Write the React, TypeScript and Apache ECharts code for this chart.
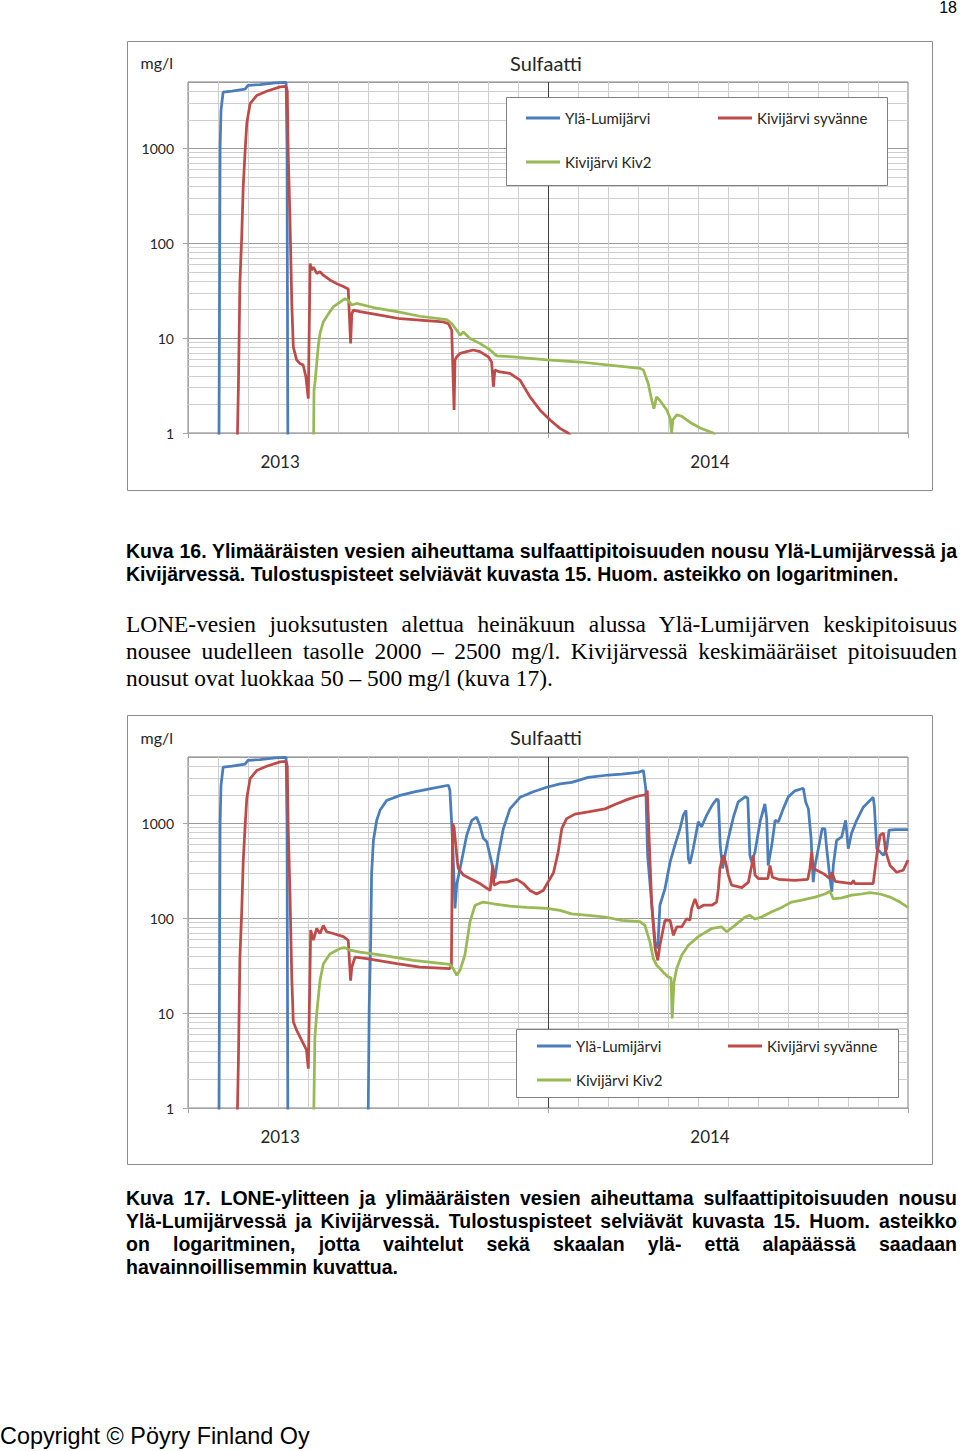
import React, { useEffect, useRef } from "react";
import * as echarts from "echarts";

// ---------- data ----------
const seriesNames = ["Ylä-Lumijärvi", "Kivijärvi syvänne", "Kivijärvi Kiv2"];
const seriesColors = ["#4a7ebb", "#be4b48", "#98b954"];
const yearLabels = ["2013", "2014"];
const yearLabelMonths = [3.07, 17.4]; // months since 1.1.2013
const yearTickMonths = [0, 12, 24];
const monthGridValues = [1, 2, 3, 4, 5, 6, 7, 8, 9, 10, 11, 13, 14, 15, 16, 17, 18, 19, 20, 21, 22, 23];
const minorGridValues = [2, 3, 4, 5, 6, 7, 8, 9, 20, 30, 40, 50, 60, 70, 80, 90, 200, 300, 400, 500, 600, 700, 800, 900, 2000, 3000, 4000];

// x = months since 1.1.2013, y = mg/l
const fig16YlaLumijarvi = [[1.03, 0.5], [1.07, 1000], [1.1, 2500], [1.17, 3900], [1.47, 4000], [1.9, 4200], [2.0, 4600], [2.4, 4700], [2.9, 4900], [3.27, 4950], [3.3, 1000], [3.33, 0.5]];
const fig16KivijarviSyvanne = [[1.63, 0.5], [1.68, 3.07], [1.73, 38], [1.79, 116], [1.84, 392], [1.9, 890], [1.96, 1840], [2.07, 2960], [2.29, 3600], [2.62, 3990], [3.07, 4440], [3.27, 4500], [3.31, 4000], [3.34, 890], [3.4, 175], [3.46, 23], [3.51, 8.1], [3.62, 5.9], [3.73, 5.4], [3.84, 5.2], [3.93, 3.9], [4.01, 2.3], [4.07, 61], [4.12, 52], [4.18, 56], [4.29, 48], [4.4, 50], [4.51, 46], [4.73, 41], [4.96, 37.5], [5.18, 35], [5.34, 33], [5.42, 8.8], [5.46, 18], [5.51, 19.7], [5.73, 19], [6.4, 17.5], [7.07, 16], [7.73, 15.5], [8.51, 14.8], [8.68, 14.2], [8.79, 12.1], [8.87, 1.75], [8.9, 5.9], [8.96, 6.35], [9.07, 6.9], [9.29, 7.2], [9.51, 7.5], [9.73, 7.2], [10.01, 6.35], [10.12, 5.6], [10.18, 3.07], [10.23, 4.6], [10.4, 4.4], [10.73, 4.25], [11.07, 3.6], [11.4, 2.4], [11.73, 1.75], [12.07, 1.37], [12.4, 1.12], [12.67, 1.0], [12.8, 0.9]];
const fig16KivijarviKiv2 = [[4.18, 0.5], [4.2, 2.83], [4.23, 3.33], [4.29, 5.4], [4.34, 8.1], [4.4, 11.2], [4.51, 14.8], [4.68, 18], [4.84, 21.3], [5.07, 24], [5.23, 26], [5.34, 25], [5.46, 22.3], [5.62, 23.2], [6.18, 21], [6.96, 19], [7.73, 17], [8.62, 15.7], [8.79, 14.2], [8.96, 12.1], [9.07, 10.7], [9.18, 11.6], [9.4, 9.9], [9.73, 8.8], [10.07, 7.5], [10.29, 6.5], [10.84, 6.35], [11.96, 5.9], [13.07, 5.6], [15.07, 4.8], [15.18, 4.6], [15.34, 3.33], [15.46, 2.2], [15.53, 1.8], [15.62, 2.4], [15.73, 2.2], [15.96, 1.75], [16.07, 1.43], [16.12, 1.0], [16.16, 1.37], [16.29, 1.55], [16.46, 1.5], [16.73, 1.3], [17.07, 1.13], [17.51, 1.0], [17.6, 0.9]];

const fig17YlaLumijarvi = [[1.03, 0.5], [1.07, 1000], [1.1, 2500], [1.17, 3900], [1.47, 4000], [1.9, 4200], [2.0, 4600], [2.4, 4700], [2.9, 4900], [3.27, 4950], [3.3, 1000], [3.33, 0.5], [6.0, 0.5], [6.04, 11.6], [6.09, 58.6], [6.12, 295], [6.18, 660], [6.29, 1075], [6.4, 1370], [6.62, 1740], [7.07, 1970], [7.51, 2130], [8.18, 2350], [8.68, 2520], [8.73, 2220], [8.79, 1000], [8.84, 440], [8.9, 127], [8.96, 230], [9.07, 335], [9.29, 750], [9.46, 1075], [9.62, 1160], [9.73, 950], [9.84, 700], [9.96, 640], [10.12, 390], [10.23, 262], [10.34, 460], [10.51, 875], [10.73, 1420], [11.07, 1880], [11.51, 2150], [11.96, 2400], [12.4, 2600], [12.79, 2700], [13.34, 3050], [14.01, 3230], [14.46, 3300], [15.01, 3440], [15.18, 3600], [15.26, 2300], [15.32, 460], [15.46, 137], [15.57, 56], [15.66, 48], [15.73, 137], [15.9, 205], [16.07, 390], [16.23, 590], [16.4, 880], [16.51, 1220], [16.6, 1370], [16.68, 425], [16.73, 375], [16.84, 540], [17.01, 1040], [17.12, 920], [17.29, 1220], [17.46, 1530], [17.62, 1800], [17.68, 1750], [17.74, 590], [17.82, 335], [17.9, 460], [18.01, 690], [18.18, 1160], [18.34, 1680], [18.57, 1900], [18.66, 1850], [18.73, 460], [18.79, 390], [18.9, 500], [19.07, 1040], [19.23, 1600], [19.29, 1120], [19.34, 360], [19.46, 590], [19.57, 1075], [19.68, 1040], [19.84, 1420], [20.01, 1900], [20.23, 2200], [20.51, 2340], [20.59, 1680], [20.68, 1420], [20.77, 690], [20.84, 240], [20.9, 360], [21.01, 540], [21.14, 880], [21.23, 875], [21.29, 540], [21.4, 262], [21.46, 190], [21.51, 360], [21.62, 660], [21.79, 720], [21.92, 1075], [22.01, 540], [22.12, 790], [22.29, 1075], [22.51, 1480], [22.73, 1740], [22.84, 1880], [22.88, 1500], [22.96, 540], [23.07, 500], [23.18, 460], [23.29, 540], [23.37, 850], [23.57, 860], [24.0, 860]];
const fig17KivijarviSyvanne = [[1.63, 0.5], [1.68, 3.07], [1.73, 38], [1.79, 116], [1.84, 392], [1.9, 890], [1.96, 1840], [2.07, 2960], [2.29, 3600], [2.62, 3990], [3.07, 4440], [3.27, 4500], [3.31, 4000], [3.34, 890], [3.4, 175], [3.46, 23], [3.51, 8.1], [3.62, 6.6], [3.84, 4.8], [3.95, 4.1], [4.01, 2.6], [4.09, 75], [4.18, 58.6], [4.29, 78], [4.4, 69], [4.51, 84], [4.62, 72], [4.84, 69], [5.18, 64], [5.34, 58.6], [5.42, 22], [5.46, 30.6], [5.57, 39], [5.96, 37.6], [6.96, 33.3], [7.73, 30.6], [8.73, 29.5], [8.78, 32], [8.82, 1000], [8.87, 900], [8.98, 390], [9.01, 335], [9.18, 285], [9.4, 262], [9.73, 232], [10.07, 196], [10.16, 360], [10.2, 223], [10.4, 240], [10.62, 240], [10.96, 257], [11.18, 232], [11.4, 196], [11.62, 180], [11.84, 196], [12.07, 262], [12.18, 300], [12.29, 425], [12.34, 500], [12.46, 880], [12.62, 1120], [12.9, 1250], [13.34, 1320], [13.9, 1420], [14.23, 1580], [14.68, 1800], [15.01, 1940], [15.26, 2000], [15.31, 2220], [15.37, 690], [15.46, 137], [15.57, 48], [15.66, 36], [15.73, 52], [15.9, 95], [16.07, 95], [16.18, 66], [16.29, 81], [16.46, 81], [16.62, 99], [16.73, 95], [16.79, 127], [16.9, 160], [17.01, 127], [17.18, 137], [17.46, 137], [17.62, 148], [17.68, 205], [17.73, 335], [17.84, 460], [17.92, 390], [18.01, 285], [18.12, 223], [18.46, 210], [18.68, 240], [18.79, 360], [18.84, 460], [18.9, 285], [19.01, 262], [19.33, 262], [19.4, 360], [19.48, 270], [19.68, 257], [20.23, 250], [20.66, 257], [20.73, 335], [20.79, 500], [20.84, 335], [20.96, 320], [21.18, 295], [21.4, 262], [21.46, 305], [21.57, 245], [22.12, 232], [22.18, 250], [22.23, 232], [22.84, 232], [22.96, 460], [23.07, 750], [23.18, 790], [23.26, 500], [23.4, 360], [23.62, 305], [23.84, 320], [24.0, 410]];
const fig17KivijarviKiv2 = [[4.18, 0.5], [4.23, 5.6], [4.29, 9.9], [4.4, 22], [4.51, 33], [4.73, 42], [5.07, 48], [5.23, 49], [5.4, 46], [5.73, 44], [6.4, 41], [7.51, 36], [8.73, 32.6], [8.84, 29.5], [8.96, 25], [9.07, 28.4], [9.23, 41], [9.4, 92], [9.57, 137], [9.84, 148], [10.18, 142], [10.73, 134], [11.29, 130], [11.96, 127], [12.4, 121], [12.79, 111], [13.34, 107], [13.9, 103], [14.46, 95], [15.07, 92], [15.23, 84], [15.4, 56], [15.51, 37.6], [15.62, 32], [15.73, 29.5], [15.84, 27], [16.01, 24], [16.1, 23.5], [16.14, 8.8], [16.2, 21.3], [16.29, 29.5], [16.46, 41], [16.68, 52], [17.01, 64], [17.46, 78], [17.79, 81], [17.96, 72], [18.23, 84], [18.57, 103], [18.73, 107], [18.9, 98], [19.12, 103], [19.46, 117], [19.79, 130], [20.12, 148], [20.46, 155], [20.9, 167], [21.23, 180], [21.4, 192], [21.51, 160], [21.79, 164], [22.12, 175], [22.46, 180], [22.73, 186], [23.07, 180], [23.4, 167], [23.73, 148], [24.0, 130]];

// ---------- chart ----------
const FONT = "Lato, 'Open Sans', sans-serif";
const TXT = "#262626";
const MINOR = "#cfcfcf";

type Layout = {
  gridTop: number;
  box: number[];
  legendLeftA: number;
  legendLeftB: number;
  legendTop: number;
  legendGap: number;
};

function buildOption(data: number[][][], L: Layout) {
  const legendCommon = {
    orient: "vertical",
    top: L.legendTop,
    itemGap: L.legendGap,
    padding: 0,
    itemWidth: 34,
    itemHeight: 3,
    icon: "rect",
    selectedMode: false,
    z: 4,
    textStyle: { fontSize: 15, color: TXT, fontFamily: FONT, lineHeight: 18 },
  };
  return {
    animation: false,
    textStyle: { fontFamily: FONT },
    title: {
      text: "Sulfaatti",
      left: 419,
      top: 12,
      textAlign: "center",
      padding: 0,
      textStyle: { fontSize: 20, fontWeight: "normal", color: TXT, fontFamily: FONT },
    },
    grid: {
      left: 61,
      top: L.gridTop,
      width: 720,
      height: 351,
      show: true,
      borderColor: "#7f7f7f",
      borderWidth: 1,
      backgroundColor: "transparent",
    },
    xAxis: {
      type: "value",
      min: 0,
      max: 24,
      interval: 1,
      axisLine: { show: true, onZero: false, lineStyle: { color: "#a6a6a6" } },
      axisTick: { show: true, customValues: yearTickMonths, length: 5, lineStyle: { color: "#a6a6a6" } },
      axisLabel: {
        show: true,
        customValues: yearLabelMonths,
        formatter: (v: number) => {
          const i = yearLabelMonths.findIndex((m) => Math.abs(m - v) < 1e-6);
          return i >= 0 ? yearLabels[i] : "";
        },
        margin: 20,
        fontSize: 17,
        color: TXT,
        fontFamily: FONT,
      },
      splitLine: { show: false },
    },
    yAxis: {
      type: "log",
      logBase: 10,
      min: 1,
      max: 5000,
      name: "mg/l",
      nameLocation: "end",
      nameGap: 20,
      nameTextStyle: { fontSize: 16, color: TXT, fontFamily: FONT, align: "right", verticalAlign: "middle", padding: [0, 15, 0, 0] },
      axisLine: { show: true, lineStyle: { color: "#a6a6a6" } },
      axisTick: { show: true, length: 5, lineStyle: { color: "#a6a6a6" } },
      axisLabel: {
        fontSize: 14,
        color: TXT,
        fontFamily: FONT,
        margin: 14,
        showMaxLabel: false,
        formatter: (v: number) => String(Math.round(v)),
      },
      splitLine: { show: true, lineStyle: { color: "#9a9a9a", width: 1 } },
    },
    legend: [
      { ...legendCommon, left: L.legendLeftA, data: [seriesNames[0], seriesNames[2]] },
      { ...legendCommon, left: L.legendLeftB, data: [seriesNames[1]] },
    ],
    graphic: [
      {
        type: "rect",
        silent: true,
        z: 0,
        shape: { x: 0.5, y: 0.5, width: 805, height: 449 },
        style: { fill: "none", stroke: "#8c8c8c", lineWidth: 1 },
      },
      {
        type: "rect",
        silent: true,
        z: 3,
        shape: { x: L.box[0] + 0.5, y: L.box[1] + 0.5, width: L.box[2], height: L.box[3] },
        style: { fill: "#ffffff", stroke: "#7f7f7f", lineWidth: 1 },
      },
    ],
    series: [
      {
        type: "line",
        name: "grid",
        data: [[0, 1]],
        symbol: "none",
        silent: true,
        z: 1,
        lineStyle: { opacity: 0 },
        markLine: {
          silent: true,
          z: 1,
          symbol: ["none", "none"],
          label: { show: false },
          emphasis: { disabled: true },
          lineStyle: { color: MINOR, width: 1, type: "solid" },
          data: [
            ...minorGridValues.map((v) => ({ yAxis: v })),
            ...monthGridValues.map((v) => ({ xAxis: v })),
            { xAxis: 12, lineStyle: { color: "#404040", width: 1, type: "solid" } },
          ],
        },
      },
      ...data.map((d, i) => ({
        type: "line",
        name: seriesNames[i],
        data: d,
        symbol: "none",
        showSymbol: false,
        clip: true,
        z: 2,
        color: seriesColors[i],
        lineStyle: { width: 2.75, color: seriesColors[i] },
        itemStyle: { color: seriesColors[i] },
      })),
    ],
  };
}

const option16 = buildOption([fig16YlaLumijarvi, fig16KivijarviSyvanne, fig16KivijarviKiv2], {
  gridTop: 41,
  box: [379, 56, 381, 88],
  legendLeftA: 399,
  legendLeftB: 591,
  legendTop: 68,
  legendGap: 26,
});
const option17 = buildOption([fig17YlaLumijarvi, fig17KivijarviSyvanne, fig17KivijarviKiv2], {
  gridTop: 42,
  box: [389, 314, 382, 68],
  legendLeftA: 410,
  legendLeftB: 601,
  legendTop: 322,
  legendGap: 16,
});

function Chart({ option, top }: { option: any; top: number }) {
  const ref = useRef<HTMLDivElement>(null);
  useEffect(() => {
    const c = echarts.init(ref.current as HTMLDivElement, null, { renderer: "svg" });
    c.setOption(option);
    return () => c.dispose();
  }, [option]);
  return <div ref={ref} style={{ position: "absolute", left: 127, top, width: 807, height: 451 }} />;
}

// ---------- text ----------
const SANS = "'Liberation Sans', Arial, sans-serif";
const SERIF = "'Liberation Serif', 'Times New Roman', serif";

function Line({ text, top, justify, font, size, bold, lh }: any) {
  return (
    <div
      style={{
        position: "absolute",
        left: 126,
        top,
        width: 831,
        whiteSpace: "nowrap",
        fontFamily: font,
        fontSize: size,
        fontWeight: bold ? "bold" : "normal",
        lineHeight: lh + "px",
        textAlign: justify ? "justify" : "left",
        textAlignLast: justify ? "justify" : "left",
        color: "#000",
      } as any}
    >
      {text}
    </div>
  );
}

const caption16 = [
  "Kuva 16. Ylimääräisten vesien aiheuttama sulfaattipitoisuuden nousu Ylä-Lumijärvessä ja",
  "Kivijärvessä. Tulostuspisteet selviävät kuvasta 15. Huom. asteikko on logaritminen.",
];
const bodyText = [
  "LONE-vesien juoksutusten alettua heinäkuun alussa Ylä-Lumijärven keskipitoisuus",
  "nousee uudelleen tasolle 2000 – 2500 mg/l. Kivijärvessä keskimääräiset pitoisuuden",
  "nousut ovat luokkaa 50 – 500 mg/l (kuva 17).",
];
const caption17 = [
  "Kuva 17. LONE-ylitteen ja ylimääräisten vesien aiheuttama sulfaattipitoisuuden nousu",
  "Ylä-Lumijärvessä ja Kivijärvessä. Tulostuspisteet selviävät kuvasta 15. Huom. asteikko",
  "on logaritminen, jotta vaihtelut sekä skaalan ylä- että alapäässä saadaan",
  "havainnoillisemmin kuvattua.",
];

export default function App() {
  return (
    <div style={{ position: "absolute", left: 0, top: 0, width: 960, height: 1451, background: "#fff", overflow: "hidden" }}>
      <div style={{ position: "absolute", right: 3, top: 0, fontFamily: SANS, fontSize: 16, lineHeight: "16px", color: "#000" }}>18</div>
      <Chart option={option16} top={41} />
      {caption16.map((t, i) => (
        <Line key={"c16" + i} text={t} top={540 + i * 23} justify={i < caption16.length - 1} font={SANS} size={19.5} bold lh={23} />
      ))}
      {bodyText.map((t, i) => (
        <Line key={"b" + i} text={t} top={610.5 + i * 27} justify={i < bodyText.length - 1} font={SERIF} size={23.4} lh={27} />
      ))}
      <Chart option={option17} top={715} />
      {caption17.map((t, i) => (
        <Line key={"c17" + i} text={t} top={1187 + i * 23} justify={i < caption17.length - 1} font={SANS} size={19.5} bold lh={23} />
      ))}
      <div style={{ position: "absolute", left: 0, top: 1422.5, fontFamily: SANS, fontSize: 23.4, lineHeight: "27px", color: "#000", whiteSpace: "nowrap" }}>
        Copyright © Pöyry Finland Oy
      </div>
    </div>
  );
}
